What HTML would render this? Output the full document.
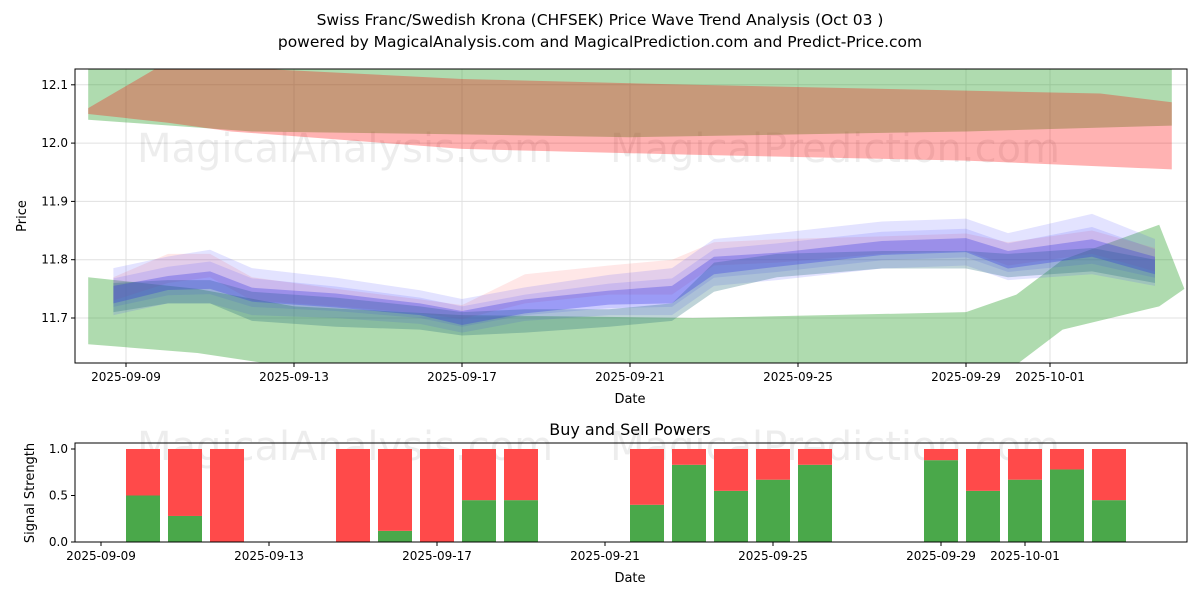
<!DOCTYPE html>
<html><head><meta charset="utf-8"><style>
body{margin:0;background:#fff;font-family:"Liberation Sans","DejaVu Sans",sans-serif}
svg text{font-family:"DejaVu Sans","Liberation Sans",sans-serif}
</style></head><body>
<svg id="chart" width="1200" height="600" xmlns="http://www.w3.org/2000/svg">
<text x="600" y="25" text-anchor="middle" font-size="15.5" fill="#000">Swiss Franc/Swedish Krona (CHFSEK) Price Wave Trend Analysis (Oct 03 )</text>
<text x="600" y="47" text-anchor="middle" font-size="15.5" fill="#000">powered by MagicalAnalysis.com and MagicalPrediction.com and Predict-Price.com</text>
<g id="topPanel"></g>
<g id="botPanel"></g>
</svg>
<script>
// ---- data ----
const topDates=["2025-09-09","2025-09-13","2025-09-17","2025-09-21","2025-09-25","2025-09-29","2025-10-01"];
const topDateDays=[0,4,8,12,16,20,22];
const priceTicks=[11.7,11.8,11.9,12.0,12.1];
const redDays=[-0.9,1,2.5,8,13.5,20,23.2,24.9];
const redUpper=[12.06,12.14,12.13,12.11,12.10,12.09,12.085,12.07];
const redLower=[12.05,12.035,12.02,11.99,11.98,11.97,11.96,11.955];
const greenTopDays=[-0.9,3,8,12,20,24.9];
const greenTopUpper=[12.15,12.15,12.15,12.15,12.15,12.15];
const greenTopLower=[12.04,12.02,12.015,12.01,12.02,12.03];
const greenBotDays=[-0.9,1.7,4,8,13.5,20,21.2,22.3,24.6,25.2];
const greenBotUpper=[11.77,11.75,11.72,11.705,11.70,11.71,11.74,11.80,11.86,11.75];
const greenBotLower=[11.655,11.64,11.615,11.6,11.6,11.6,11.62,11.68,11.72,11.75];
const blueDays=[-0.3,1,2,3,5,7,8,9.5,11.5,13,14,15.5,18,20,21,23,24.5];
const blueCenter=[11.74,11.76,11.765,11.74,11.73,11.715,11.70,11.72,11.735,11.74,11.79,11.80,11.82,11.825,11.80,11.82,11.79];
const blueHalf1=[0.035,0.035,0.04,0.035,0.03,0.025,0.025,0.025,0.03,0.035,0.035,0.035,0.035,0.035,0.035,0.045,0.035];
const blueHalf2=[0.015,0.012,0.015,0.012,0.012,0.01,0.012,0.012,0.012,0.015,0.015,0.012,0.012,0.012,0.015,0.015,0.015];
const pinkCenter=[11.75,11.785,11.79,11.75,11.735,11.72,11.71,11.75,11.765,11.77,11.81,11.815,11.825,11.83,11.81,11.83,11.80];
const pinkHalf=[0.02,0.025,0.02,0.02,0.015,0.012,0.012,0.025,0.025,0.03,0.02,0.02,0.015,0.015,0.02,0.02,0.02];
const tealCenter=[11.735,11.745,11.745,11.72,11.71,11.70,11.69,11.695,11.70,11.71,11.77,11.79,11.80,11.80,11.79,11.80,11.78];
const tealHalf=[0.025,0.02,0.02,0.025,0.025,0.02,0.02,0.02,0.015,0.015,0.025,0.02,0.015,0.015,0.02,0.02,0.02];
const barDays=[1,2,3,6,7,8,9,10,13,14,15,16,17,20,21,22,23,24];
const buyVals=[0.5,0.28,0,0,0.12,0,0.45,0.45,0.4,0.83,0.55,0.67,0.83,0.88,0.55,0.67,0.78,0.45];
const sellVals=[0.5,0.72,1,1,0.88,1,0.55,0.55,0.6,0.17,0.45,0.33,0.17,0.12,0.45,0.33,0.22,0.55];
const sigTicks=[0,0.5,1.0];
// ---- axes ----
const NS="http://www.w3.org/2000/svg";
const T={x0:75,x1:1187,y0:69,y1:363};
const xT=d=>126+d*42;
const yT=v=>318-(v-11.7)*583;
const xB=d=>101+d*42;
const yB=v=>542-v*93;
function mk(p,tag,at){const e=document.createElementNS(NS,tag);for(const k in at)e.setAttribute(k,at[k]);p.appendChild(e);return e;}
const topG=document.getElementById('topPanel'),botG=document.getElementById('botPanel');
const clip=mk(document.getElementById('chart'),'clipPath',{id:'cp'});
mk(clip,'rect',{x:T.x0,y:T.y0,width:T.x1-T.x0,height:T.y1-T.y0});
topDateDays.forEach(d=>{const l=mk(topG,'line',{x1:xT(d),x2:xT(d),y1:T.y0,y2:T.y1,stroke:'#e0e0e0'});});
priceTicks.forEach(v=>{const l=mk(topG,'line',{x1:T.x0,x2:T.x1,y1:yT(v),y2:yT(v),stroke:'#e0e0e0'});});
const wm1=mk(topG,'text',{x:345,y:162,'font-size':40,fill:'#000','fill-opacity':0.07,'text-anchor':'middle'});wm1.textContent='MagicalAnalysis.com';

const wm2=mk(topG,'text',{x:835,y:162,'font-size':40,fill:'#000','fill-opacity':0.07,'text-anchor':'middle'});wm2.textContent='MagicalPrediction.com';

const g=mk(topG,'g',{'clip-path':'url(#cp)'});
function band(days,up,lo,color,op,name){
  let pts=days.map((d,i)=>xT(d)+','+yT(up[i]));
  for(let i=days.length-1;i>=0;i--)pts.push(xT(days[i])+','+yT(lo[i]));
  const p=mk(g,'polygon',{points:pts.join(' '),fill:color,'fill-opacity':op});
  
  
}
band(greenTopDays,greenTopUpper,greenTopLower,'#2ca02c',0.38,'green-band-upper');
band(redDays,redUpper,redLower,'#ff0000',0.3,'red-band');
band(greenBotDays,greenBotUpper,greenBotLower,'#2ca02c',0.38,'green-band-lower');
const add=(c,h,k)=>c.map((v,i)=>v+h[i]*k);
band(blueDays,add(pinkCenter,pinkHalf,1),add(pinkCenter,pinkHalf,-1),'#ff6060',0.15,'pink-wave-band');
band(blueDays,add(blueCenter,blueHalf1,1.3),add(blueCenter,blueHalf1,-0.6),'#4040ff',0.15,'blue-wave-band-outer');
band(blueDays,add(blueCenter,blueHalf1,0.8),add(blueCenter,blueHalf1,-1),'#4040ff',0.15,'blue-wave-band-mid');
band(blueDays,add(tealCenter,tealHalf,1),add(tealCenter,tealHalf,-1),'#2a6f7f',0.3,'teal-wave-band');
band(blueDays,add(blueCenter,blueHalf2,1),add(blueCenter,blueHalf2,-1),'#3030e0',0.3,'blue-wave-band-inner');
mk(topG,'rect',{x:T.x0,y:T.y0,width:T.x1-T.x0,height:T.y1-T.y0,fill:'none',stroke:'#000'});
priceTicks.forEach(v=>{mk(topG,'line',{x1:T.x0-4,x2:T.x0,y1:yT(v),y2:yT(v),stroke:'#000'});
 const t=mk(topG,'text',{x:T.x0-7,y:yT(v)+4,'font-size':12,'text-anchor':'end'});t.textContent=v.toFixed(1);
 });
topDateDays.forEach((d,i)=>{mk(topG,'line',{x1:xT(d),x2:xT(d),y1:T.y1,y2:T.y1+4,stroke:'#000'});
 const t=mk(topG,'text',{x:xT(d),y:T.y1+18,'font-size':12,'text-anchor':'middle'});t.textContent=topDates[i];
 });
let t=mk(topG,'text',{x:630,y:403,'font-size':13,'text-anchor':'middle'});t.textContent='Date';

t=mk(topG,'text',{x:26,y:216,'font-size':13,'text-anchor':'middle',transform:'rotate(-90 26 216)'});t.textContent='Price';

const B={x0:75,x1:1187,y0:443,y1:542};
t=mk(botG,'text',{x:630,y:435,'font-size':16,'text-anchor':'middle'});t.textContent='Buy and Sell Powers';

const w3=mk(botG,'text',{x:345,y:460,'font-size':40,fill:'#000','fill-opacity':0.07,'text-anchor':'middle'});w3.textContent='MagicalAnalysis.com';

const w4=mk(botG,'text',{x:835,y:460,'font-size':40,fill:'#000','fill-opacity':0.07,'text-anchor':'middle'});w4.textContent='MagicalPrediction.com';

barDays.forEach((d,i)=>{
 const b=mk(botG,'rect',{x:xB(d)-17,y:yB(buyVals[i]),width:34,height:yB(0)-yB(buyVals[i]),fill:'#4aa84a'});
 
 const s=mk(botG,'rect',{x:xB(d)-17,y:yB(buyVals[i]+sellVals[i]),width:34,height:yB(buyVals[i])-yB(buyVals[i]+sellVals[i]),fill:'#ff4a4a'});
 
});
mk(botG,'rect',{x:B.x0,y:B.y0,width:B.x1-B.x0,height:B.y1-B.y0,fill:'none',stroke:'#000'});
sigTicks.forEach(v=>{mk(botG,'line',{x1:B.x0-4,x2:B.x0,y1:yB(v),y2:yB(v),stroke:'#000'});
 const tt=mk(botG,'text',{x:B.x0-7,y:yB(v)+4,'font-size':12,'text-anchor':'end'});tt.textContent=v.toFixed(1);
 });
topDateDays.forEach((d,i)=>{mk(botG,'line',{x1:xB(d),x2:xB(d),y1:B.y1,y2:B.y1+4,stroke:'#000'});
 const tt=mk(botG,'text',{x:xB(d),y:B.y1+18,'font-size':12,'text-anchor':'middle'});tt.textContent=topDates[i];
 });
t=mk(botG,'text',{x:630,y:582,'font-size':13,'text-anchor':'middle'});t.textContent='Date';

t=mk(botG,'text',{x:34,y:493,'font-size':13,'text-anchor':'middle',transform:'rotate(-90 34 493)'});t.textContent='Signal Strength';

</script>
</body></html>
